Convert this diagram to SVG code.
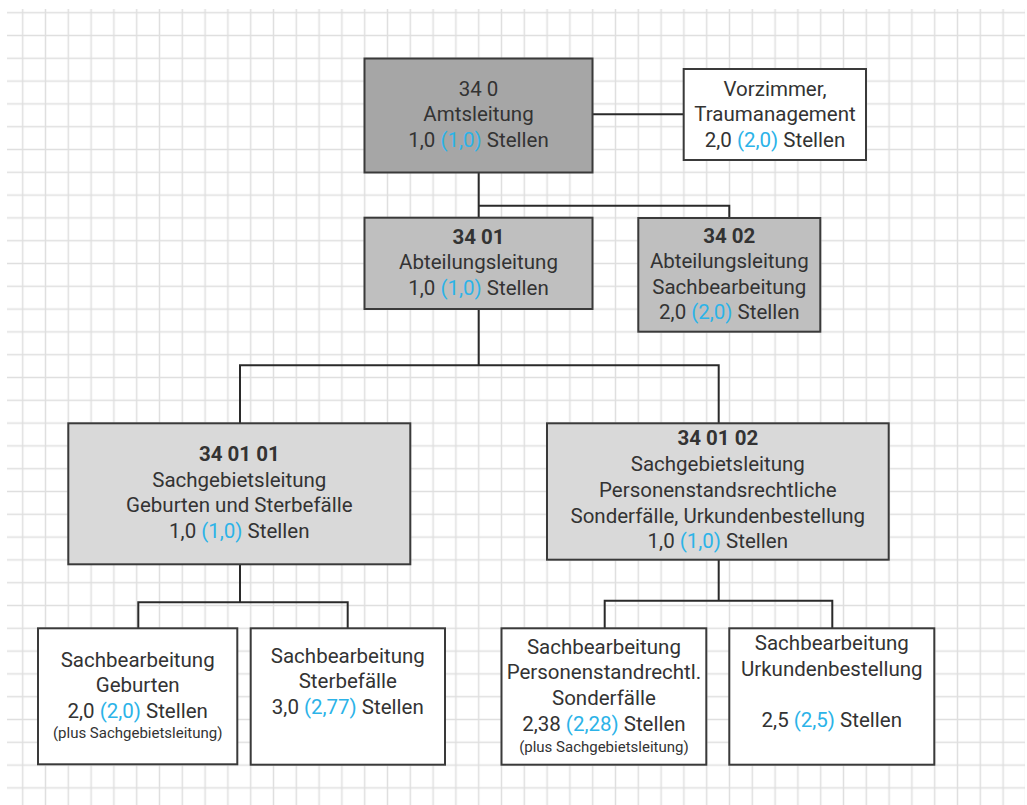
<svg xmlns="http://www.w3.org/2000/svg" width="1027" height="805" viewBox="0 0 1027 805">
<defs>
<pattern id="grid" patternUnits="userSpaceOnUse" x="11.3" y="1.3" width="22.8" height="22.8">
<path d="M11.4 0V22.8M0 11.4H22.8" stroke="#dfdfdf" stroke-width="1.5" fill="none"/>
</pattern>
<style>
.box{stroke:#3a3a3a;stroke-width:2}
.l0{fill:#a6a6a6}.l1{fill:#bfbfbf}.l2{fill:#d9d9d9}.l3{fill:#ffffff}
text{font-family:Roboto,"Liberation Sans",sans-serif;font-size:20.5px;fill:#333333;text-anchor:middle}
.b{font-weight:bold}
.s{font-size:15px}
.c{fill:#2cb3e8}
.con{stroke:#2a2a2a;stroke-width:2;fill:none}
</style>
</defs>
<rect x="0" y="0" width="1027" height="805" fill="#ffffff"/>
<rect x="7" y="9" width="1018" height="796" fill="url(#grid)"/>
<g id="connectors">
<path class="con" d="M592.3 114.3H683.7"/>
<path class="con" d="M478.7 172.3V217.7M478.7 205.7H729.3V218"/>
<path class="con" d="M478.7 309V365.3M240 423.3V365.3H718.7V423.3"/>
<path class="con" d="M240 564.3V602.3M138.3 628.3V602.3H347.7V628.3"/>
<path class="con" d="M718.7 559.7V600.7M604.7 628.3V600.7H832.3V628.3"/>
</g>
<g id="n340">
<rect class="box l0" x="364.5" y="58.5" width="228" height="114"/>
<text x="478.5" y="95.5">34 0</text>
<text x="478.5" y="121">Amtsleitung</text>
<text x="478.5" y="147">1,0 <tspan class="c">(1,0)</tspan> Stellen</text>
</g>
<g id="vorzimmer">
<rect class="box l3" x="683.7" y="69" width="182.3" height="91"/>
<text x="775" y="95.5">Vorzimmer,</text>
<text x="775" y="121">Traumanagement</text>
<text x="775" y="147">2,0 <tspan class="c">(2,0)</tspan> Stellen</text>
</g>
<g id="n3401">
<rect class="box l1" x="364.5" y="217.7" width="228" height="91.3"/>
<text class="b" x="478.5" y="243.5">34 01</text>
<text x="478.5" y="269">Abteilungsleitung</text>
<text x="478.5" y="295">1,0 <tspan class="c">(1,0)</tspan> Stellen</text>
</g>
<g id="n3402">
<rect class="box l1" x="638.3" y="218" width="182" height="113.7"/>
<text class="b" x="729.3" y="242.5">34 02</text>
<text x="729.3" y="268.3">Abteilungsleitung</text>
<text x="729.3" y="293.5">Sachbearbeitung</text>
<text x="729.3" y="318.5">2,0 <tspan class="c">(2,0)</tspan> Stellen</text>
</g>
<g id="n340101">
<rect class="box l2" x="68.3" y="423.3" width="342" height="141"/>
<text class="b" x="239.3" y="461">34 01 01</text>
<text x="239.3" y="486.7">Sachgebietsleitung</text>
<text x="239.3" y="512">Geburten und Sterbefälle</text>
<text x="239.3" y="537.7">1,0 <tspan class="c">(1,0)</tspan> Stellen</text>
</g>
<g id="n340102">
<rect class="box l2" x="547" y="423.3" width="341.7" height="136.4"/>
<text class="b" x="717.8" y="445">34 01 02</text>
<text x="717.8" y="471">Sachgebietsleitung</text>
<text x="717.8" y="496.7">Personenstandsrechtliche</text>
<text x="717.8" y="522.7">Sonderfälle, Urkundenbestellung</text>
<text x="717.8" y="547.7">1,0 <tspan class="c">(1,0)</tspan> Stellen</text>
</g>
<g id="geburten">
<rect class="box l3" x="38" y="628.3" width="199.3" height="136"/>
<text x="137.7" y="666.7">Sachbearbeitung</text>
<text x="137.7" y="692.3">Geburten</text>
<text x="137.7" y="718.3">2,0 <tspan class="c">(2,0)</tspan> Stellen</text>
<text class="s" x="137.7" y="738.3">(plus Sachgebietsleitung)</text>
</g>
<g id="sterbefaelle">
<rect class="box l3" x="250.7" y="628.3" width="194.3" height="136.4"/>
<text x="347.8" y="663.3">Sachbearbeitung</text>
<text x="347.8" y="688.3">Sterbefälle</text>
<text x="347.8" y="714">3,0 <tspan class="c">(2,77)</tspan> Stellen</text>
</g>
<g id="personenstand">
<rect class="box l3" x="501.5" y="628.3" width="204.8" height="136.4"/>
<text x="603.9" y="654.3">Sachbearbeitung</text>
<text x="603.9" y="679.3">Personenstandrechtl.</text>
<text x="603.9" y="705">Sonderfälle</text>
<text x="603.9" y="730.7">2,38 <tspan class="c">(2,28)</tspan> Stellen</text>
<text class="s" x="603.9" y="751.7">(plus Sachgebietsleitung)</text>
</g>
<g id="urkunden">
<rect class="box l3" x="729.3" y="628.3" width="205" height="136.4"/>
<text x="831.8" y="650">Sachbearbeitung</text>
<text x="831.8" y="675.7">Urkundenbestellung</text>
<text x="831.8" y="727.3">2,5 <tspan class="c">(2,5)</tspan> Stellen</text>
</g>
</svg>
